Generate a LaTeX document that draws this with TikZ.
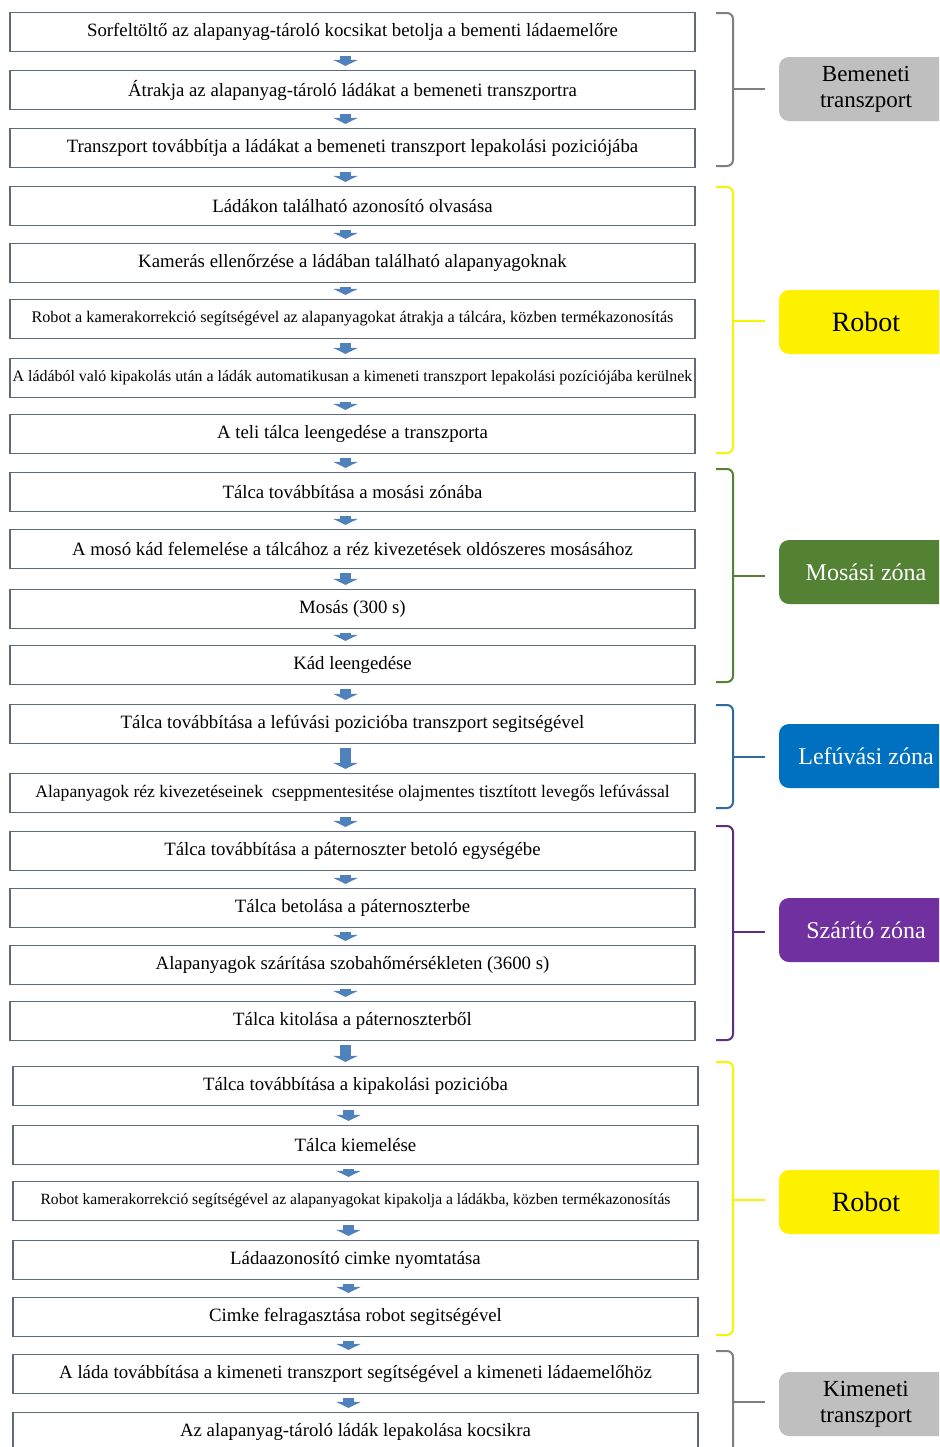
\documentclass[tikz,border=0pt]{standalone}
\usepackage{fontspec}
\setmainfont{Liberation Serif}
\usetikzlibrary{arrows.meta}
\definecolor{boxgray}{HTML}{5F6B78}
\definecolor{arrowblue}{HTML}{4F81BD}
\definecolor{zgray}{HTML}{7F7F7F}
\definecolor{zgrayfill}{HTML}{BFBFBF}
\definecolor{zyellow}{HTML}{F5F500}
\definecolor{zgreen}{HTML}{548235}
\definecolor{zblue}{HTML}{0070C0}
\definecolor{zbluebr}{HTML}{2E6A9E}
\definecolor{zpurple}{HTML}{7030A0}
\definecolor{zpurplebr}{HTML}{5E2E80}
\tikzset{
  procbox/.style={draw=boxgray, line width=0.75pt, fill=white,
    minimum width=342.5pt, minimum height=19.5pt, inner sep=0pt,
    font=\fontsize{9.4}{10}\selectfont},
  tight/.style={font=\fontsize{8.1}{9}\selectfont},
  flow/.style={draw=arrowblue, line width=5.5pt,
    -{Triangle[width=12pt,length=3pt]}, shorten <=1.9pt, shorten >=1.9pt},
  zonelabel/.style={rounded corners=5pt, minimum width=87pt, minimum height=32pt,
    inner sep=2pt, align=center, font=\fontsize{12}{14}\selectfont},
}
% bracket beside a group: colour, top, middle, bottom (pixel rows)
\newcommand{\zonebrace}[4]{%
  \draw[#1, line width=1pt, rounded corners=3pt] (716,#2) -- (733,#2) -- (733,#4) -- (716,#4);
  \draw[#1, line width=1pt] (733,#3) -- (765,#3);%
}

\begin{document}
\begin{tikzpicture}[x=0.5pt, y=-0.5pt]

\useasboundingbox (0,0) rectangle (939,1447);
\clip (0,0) rectangle (939,1447);
\fill[white] (0,0) rectangle (939,1447);

% bemeneti transzport
\node[procbox] (b1) at (352.5,32) {Sorfeltöltő az alapanyag-tároló kocsikat betolja a bementi ládaemelőre};
\node[procbox] (b2) at (352.5,90) {Átrakja az alapanyag-tároló ládákat a bemeneti transzportra};
\node[procbox] (b3) at (352.5,148) {Transzport továbbítja a ládákat a bemeneti transzport lepakolási poziciójába};

% robot
\node[procbox] (b4) at (352.5,206) {Ládákon található azonosító olvasása};
\node[procbox] (b5) at (352.5,263) {Kamerás ellenőrzése a ládában található alapanyagoknak};
\node[procbox, tight] (b6) at (352.5,319) {Robot a kamerakorrekció segítségével az alapanyagokat átrakja a tálcára, közben termékazonosítás};
\node[procbox, font=\fontsize{7.95}{9}\selectfont] (b7) at (352.5,378) {A ládából való kipakolás után a ládák automatikusan a kimeneti transzport lepakolási pozíciójába kerülnek};
\node[procbox] (b8) at (352.5,434) {A teli tálca leengedése a transzporta};

% mosas
\node[procbox] (b9) at (352.5,492) {Tálca továbbítása a mosási zónába};
\node[procbox] (b10) at (352.5,549) {A mosó kád felemelése a tálcához a réz kivezetések oldószeres mosásához};
\node[procbox] (b11) at (352.5,609) {Mosás (300 s)};
\node[procbox] (b12) at (352.5,665) {Kád leengedése};

% lefuvas
\node[procbox] (b13) at (352.5,724) {Tálca továbbítása a lefúvási pozicióba transzport segitségével};
\node[procbox, font=\fontsize{8.8}{9}\selectfont] (b14) at (352.5,793) {Alapanyagok réz kivezetéseinek \ cseppmentesitése olajmentes tisztított levegős lefúvással};

% szarito
\node[procbox] (b15) at (352.5,851) {Tálca továbbítása a páternoszter betoló egységébe};
\node[procbox] (b16) at (352.5,908) {Tálca betolása a páternoszterbe};
\node[procbox] (b17) at (352.5,965) {Alapanyagok szárítása szobahőmérsékleten (3600 s)};
\node[procbox] (b18) at (352.5,1021) {Tálca kitolása a páternoszterből};

% robot (kipakolas)
\node[procbox] (b19) at (355.5,1086) {Tálca továbbítása a kipakolási pozicióba};
\node[procbox] (b20) at (355.5,1145) {Tálca kiemelése};
\node[procbox, font=\fontsize{7.8}{9}\selectfont] (b21) at (355.5,1201) {Robot kamerakorrekció segítségével az alapanyagokat kipakolja a ládákba, közben termékazonosítás};
\node[procbox] (b22) at (355.5,1260) {Ládaazonosító cimke nyomtatása};
\node[procbox] (b23) at (355.5,1317) {Cimke felragasztása robot segitségével};

% kimeneti transzport
\node[procbox] (b24) at (355.5,1374) {A láda továbbítása a kimeneti transzport segítségével a kimeneti ládaemelőhöz};
\node[procbox] (b25) at (355.5,1432) {Az alapanyag-tároló ládák lepakolása kocsikra};

\foreach \i [evaluate=\i as \j using int(\i+1)] in {1,...,24}
  \draw[flow] ([xshift=-3.5pt]b\i.south) -- ([xshift=-3.5pt]b\i.south |- b\j.north);

% zone brackets
\zonebrace{zgray}{13}{89}{166}
\zonebrace{zyellow}{187}{321}{453}
\zonebrace{zgreen}{469}{576}{682}
\zonebrace{zbluebr}{705}{757}{808}
\zonebrace{zpurplebr}{826}{932}{1040}
\zonebrace{zyellow}{1062}{1200}{1335}
\zonebrace{zgray}{1351}{1402}{1500}

% zone labels
\node[zonelabel, fill=zgrayfill, font=\fontsize{11.5}{13}\selectfont] (z1) at (866,89) {Bemeneti\\transzport};
\node[zonelabel, fill=yellow, font=\fontsize{14}{16}\selectfont] (z2) at (866,322) {Robot};
\node[zonelabel, fill=zgreen, text=white] (z3) at (866,572) {Mosási zóna};
\node[zonelabel, fill=zblue, text=white] (z4) at (866,756) {Lefúvási zóna};
\node[zonelabel, fill=zpurple, text=white] (z5) at (866,930) {Szárító zóna};
\node[zonelabel, fill=yellow, font=\fontsize{14}{16}\selectfont] (z6) at (866,1202) {Robot};
\node[zonelabel, fill=zgrayfill, font=\fontsize{11.5}{13}\selectfont] (z7) at (866,1404) {Kimeneti\\transzport};

\end{tikzpicture}
\end{document}
